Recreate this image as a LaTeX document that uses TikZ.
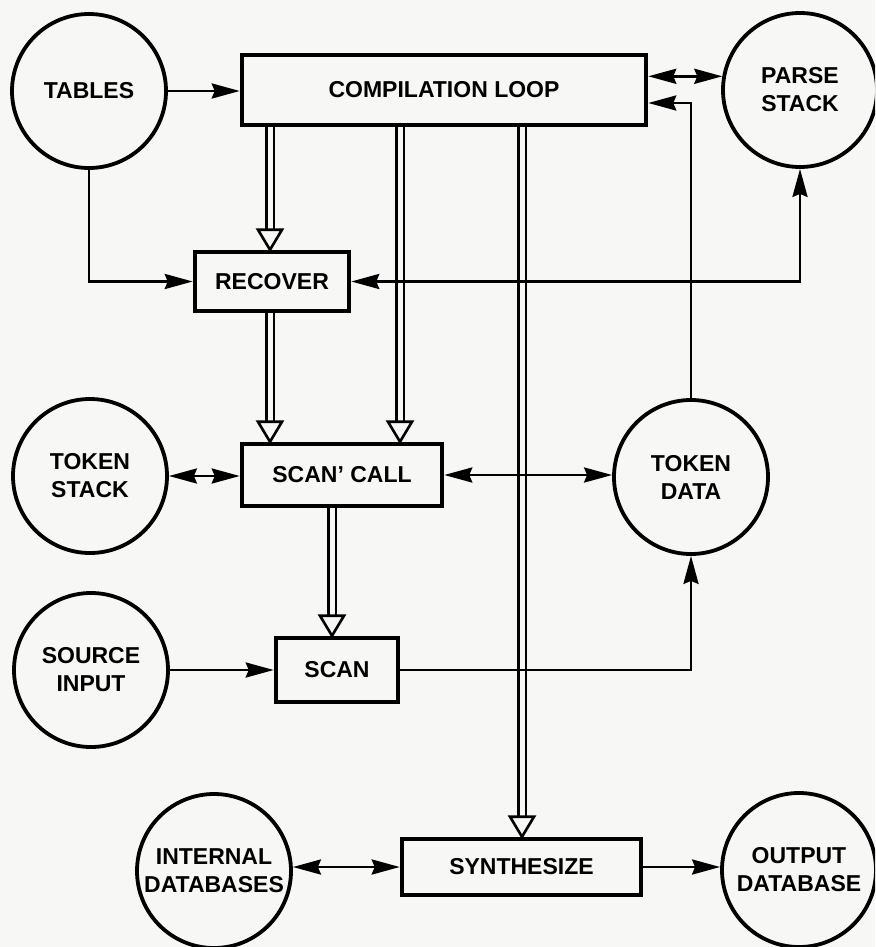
\documentclass[tikz,border=0pt]{standalone}
\usepackage{fontspec}
\setmainfont{Liberation Sans}
\usetikzlibrary{arrows.meta,calc}
\definecolor{paper}{RGB}{247,247,245}
\newcommand\lbl{\fontsize{23}{28}\selectfont\bfseries}
\begin{document}
\begin{tikzpicture}[x=1pt,y=-1pt,
  circ/.style={circle,draw,line width=3.8pt,minimum size=154pt,inner sep=0pt,align=center,font=\lbl},
  box/.style={rectangle,draw,line width=4.5pt,inner sep=0pt,align=center,font=\lbl},
  arr/.style={line width=2.8pt,-{Stealth[length=28pt,width=15pt,inset=3pt]}},
  biarr/.style={line width=2.8pt,{Stealth[length=28pt,width=15pt,inset=3pt]}-{Stealth[length=28pt,width=15pt,inset=3pt]}},
  dbl/.style={draw,line width=2.4pt,double=paper,double distance=5pt},
  hhead/.style={draw,line width=2.6pt,fill=paper,line join=miter}]
\useasboundingbox (0,0) rectangle (875,947);
\clip (0,0) rectangle (875,947);
\fill[paper] (0,0) rectangle (875,947);

% nodes
\node[circ] (tables) at (89,91) {TABLES};
\node[box,minimum width=404pt,minimum height=70pt] (cl) at (444,90) {COMPILATION LOOP};
\node[circ] (parse) at (800,90) {PARSE\\STACK};
\node[box,minimum width=154pt,minimum height=59pt] (recover) at (272,281.5) {RECOVER};
\node[circ] (tokstack) at (90,476) {TOKEN\\STACK};
\node[box,minimum width=200pt,minimum height=62pt] (scancall) at (342,475) {SCAN' CALL};
\node[circ] (tokdata) at (691,477) {TOKEN\\DATA};
\node[circ] (srcinput) at (91,670) {SOURCE\\INPUT};
\node[box,minimum width=122pt,minimum height=64pt] (scan) at (337,670) {SCAN};
\node[circ] (intdb) at (214,871) {INTERNAL\\DATABASES};
\node[box,minimum width=239pt,minimum height=56pt] (synth) at (521.5,867) {SYNTHESIZE};
\node[circ] (outdb) at (799,870) {OUTPUT\\DATABASE};

% column coordinates for the hollow arrows
\coordinate (colA) at (270,0);
\coordinate (colB) at (400,0);
\coordinate (colC) at (522,0);
\coordinate (colD) at (332,0);

% hollow double-line arrows
\newcommand\hollow[2]{%
  \draw[dbl,shorten >=20pt] (#1) -- (#2);
  \draw[hhead] (#2) -- ++(-12,-20) -- ++(24,0) -- cycle;}
\hollow{cl.south -| colA}{recover.north -| colA}
\hollow{cl.south -| colB}{scancall.north -| colB}
\hollow{cl.south -| colC}{synth.north -| colC}
\hollow{recover.south -| colA}{scancall.north -| colA}
\hollow{scancall.south -| colD}{scan.north -| colD}

% connectors
\draw[arr] (tables.east) -- (cl.west |- tables.east);
\draw[biarr] (parse.170) -- (parse.170 -| cl.east);
\draw[arr] (tokdata.north) |- ([yshift=-13pt]cl.east);
\draw[arr] (tables.south) |- (recover.west);
\draw[biarr] (parse.south) |- (recover.east);
\draw[biarr] (tokstack.east) -- (tokstack.east -| scancall.west);
\draw[biarr] (scancall.east) -- (scancall.east -| tokdata.west);
\draw[arr] (srcinput.east) -- (scan.west);
\draw[arr] (scan.east) -| (tokdata.south);
\draw[biarr] (intdb.east |- synth.west) -- (synth.west);
\draw[arr] (synth.east) -- (synth.east -| outdb.west);
\end{tikzpicture}
\end{document}
